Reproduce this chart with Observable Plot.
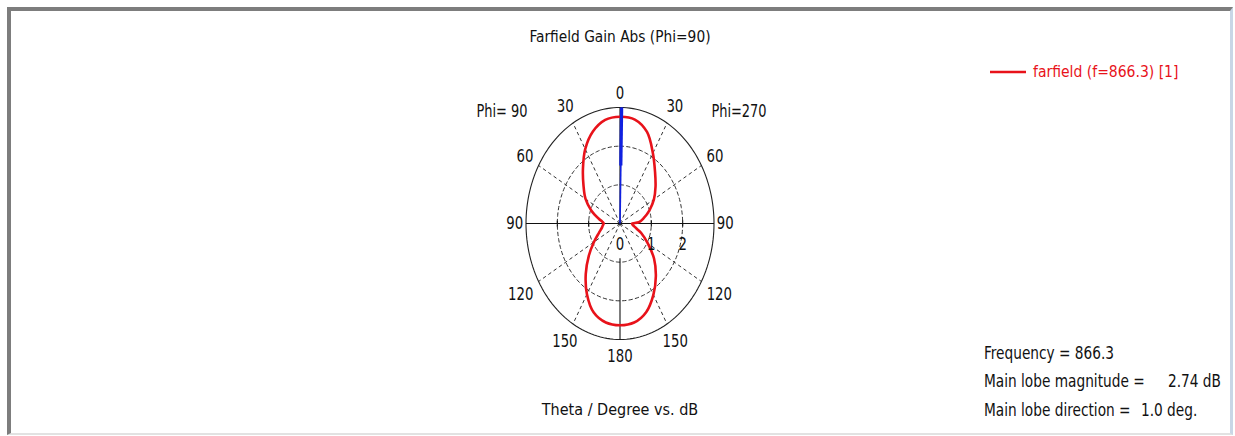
<!DOCTYPE html>
<html>
<head>
<meta charset="utf-8">
<script src="https://cdn.jsdelivr.net/npm/d3@7"></script>
<script src="https://cdn.jsdelivr.net/npm/@observablehq/plot@0.6"></script>
<style>
  html, body { margin: 0; padding: 0; background: #fff; }
  #wrap { position: relative; width: 1235px; height: 436px; overflow: hidden; background: #fff;
          font-family: "DejaVu Sans Condensed", "DejaVu Sans", sans-serif; color: #111; }
  #frame { position: absolute; left: 7px; top: 7px; width: 1226px; height: 428px;
           border-top: 4px solid #7d7d7d; border-left: 4px solid #7d7d7d;
           border-right: 3px solid #c9d6e6; border-bottom: 2px solid #e2e2e2; box-sizing: border-box; }
  #chart { position: absolute; left: 0; top: 0; }
  .t { position: absolute; white-space: nowrap; }
  .c { transform-origin: center center; }
  .l { transform-origin: left center; }
</style>
</head>
<body>
<div id="wrap">
  <div id="frame"></div>
  <div id="chart"></div>
  <div class="t c" style="left:620px;top:37px;font-size:15.3px;line-height:16px;transform:translate(-50%,-50%)">Farfield Gain Abs (Phi=90)</div>
  <div class="t c" style="left:620px;top:410px;font-size:16px;line-height:16px;transform:translate(-50%,-50%)">Theta / Degree vs. dB</div>
  <div class="t c" style="left:502px;top:111px;font-size:18px;line-height:18px;transform:translate(-50%,-50%) scaleX(0.8)">Phi= 90</div>
  <div class="t c" style="left:739px;top:111px;font-size:18px;line-height:18px;transform:translate(-50%,-50%) scaleX(0.8)">Phi=270</div>
  <svg style="position:absolute;left:988px;top:66px" width="40" height="12"><line x1="2" y1="6" x2="38" y2="6" stroke="#e8121a" stroke-width="2.5"/></svg>
  <div class="t l" style="left:1033px;top:72px;font-size:16px;line-height:16px;color:#e8121a;transform:translate(0,-50%) scaleX(0.97)">farfield (f=866.3) [1]</div>
  <div class="t l" style="left:984px;top:353px;font-size:17.5px;line-height:18px;transform:translate(0,-50%) scaleX(0.87)">Frequency = 866.3</div>
  <div class="t l" style="left:984px;top:381px;font-size:17.5px;line-height:18px;transform:translate(0,-50%) scaleX(0.87)">Main lobe magnitude =</div>
  <div class="t l" style="left:1168px;top:381px;font-size:17.5px;line-height:18px;transform:translate(0,-50%) scaleX(0.87)">2.74 dB</div>
  <div class="t l" style="left:984px;top:410px;font-size:17.5px;line-height:18px;transform:translate(0,-50%) scaleX(0.87)">Main lobe direction =</div>
  <div class="t l" style="left:1141px;top:410px;font-size:17.5px;line-height:18px;transform:translate(0,-50%) scaleX(0.87)">1.0 deg.</div>
</div>
<script>
// Phi = 270 half (drawn on the right), theta in degrees, gain in dB
const thetaRight = [0, 10, 20, 30, 40, 50, 60, 70, 80, 87, 90, 95, 100, 105, 110, 120, 130, 140, 150, 160, 170, 180];
const gainRight  = [2.76, 2.73, 2.52, 2.10, 1.74, 1.48, 1.25, 1.00, 0.76, 0.60, 0.38, 0.41, 0.47, 0.57, 0.72, 1.02, 1.42, 1.78, 2.13, 2.44, 2.60, 2.63];
// Phi = 90 half (drawn on the left)
const thetaLeft = [0, 10, 20, 30, 40, 50, 60, 70, 80, 85, 90, 95, 100, 110, 120, 130, 140, 150, 160, 170, 180];
const gainLeft  = [2.76, 2.72, 2.53, 2.22, 1.84, 1.52, 1.27, 0.97, 0.68, 0.57, 0.52, 0.55, 0.58, 0.72, 0.96, 1.30, 1.70, 2.11, 2.45, 2.60, 2.63];
// grid
const ringValues = [1, 2];
const outerRing = 3;
const spokeAngles = [30, 60, 120, 150, 210, 240, 300, 330];
const radialTickLabels = ["0", "1", "2"];
const radialTickValues = [0, 1, 2];
const angleTickValues = [0, 30, 60, 90, 120, 150, 180];
const angleTickLabels = ["0", "30", "60", "90", "120", "150", "180"];
const mainLobeDirection = 1.0;

const rad = d => d * Math.PI / 180;
const polar = (r, deg, side = 1) => ({x: side * r * Math.sin(rad(deg)), y: r * Math.cos(rad(deg))});

// pattern: right half 0→180, then left half 180→0 (closed)
const pattern = [];
thetaRight.forEach((t, i) => pattern.push(polar(gainRight[i], t, 1)));
for (let i = thetaLeft.length - 2; i >= 1; i--) pattern.push(polar(gainLeft[i], thetaLeft[i], -1));

const ringPts = (r) => d3.range(0, 361, 2).map(a => ({...polar(r, a), r}));
const dashedRings = ringValues.flatMap(ringPts);
const outer = ringPts(outerRing);
const spokes = spokeAngles.map(a => { const p = polar(outerRing, a); return {x1: 0, y1: 0, x2: p.x, y2: p.y}; });

const angleLabels = [];
angleTickValues.forEach((a, i) => {
  const sides = (a === 0 || a === 180) ? [1] : [1, -1];
  sides.forEach(s => angleLabels.push({a, s, label: angleTickLabels[i]}));
});
// label offset (in dB units) outside the outer ring, per angle
const labelPad = {0: 3.37, 30: 3.5, 60: 3.5, 90: 3.36, 120: 3.66, 150: 3.52, 180: 3.44};
const labelR = a => labelPad[a];

const plot = Plot.plot({
  width: 1235, height: 436,
  marginTop: 0, marginBottom: 0, marginLeft: 0, marginRight: 0,
  style: {fontFamily: '"DejaVu Sans Condensed", "DejaVu Sans", sans-serif', fontSize: "18px", color: "#111", background: "transparent", overflow: "visible"},
  x: {domain: [-3, 3], range: [525.5, 713.5], axis: null},
  y: {domain: [-3, 3], range: [339, 107], axis: null},
  marks: [
    Plot.line(dashedRings, {x: "x", y: "y", z: "r", stroke: "#333", strokeWidth: 1, strokeDasharray: "3.5,3"}),
    Plot.link(spokes, {x1: "x1", y1: "y1", x2: "x2", y2: "y2", stroke: "#333", strokeWidth: 1, strokeDasharray: "3.5,3"}),
    Plot.line(outer, {x: "x", y: "y", stroke: "#222", strokeWidth: 1.1}),
    Plot.link([{x1: -3, x2: 3, y1: 0, y2: 0}], {x1: "x1", x2: "x2", y1: "y1", y2: "y2", stroke: "#111", strokeWidth: 1.1}),
    Plot.link([{x1: 0, x2: 0, y1: -0.9, y2: -3}, {x1: 0, x2: 0, y1: 0, y2: 3}], {x1: "x1", x2: "x2", y1: "y1", y2: "y2", stroke: "#111", strokeWidth: 1.1}),
    Plot.link([-2, -1, 1, 2].map(v => ({x: v})), {x1: "x", x2: "x", y1: -0.08, y2: 0.08, stroke: "#111", strokeWidth: 1.1}),
    Plot.line(pattern, {x: "x", y: "y", curve: "catmull-rom-closed", stroke: "#e8121a", strokeWidth: 2.6}),
    Plot.link([{r1: 0, r2: 3, w: 1.6}, {r1: 1.5, r2: 3, w: 3.2}], {
      x1: d => polar(d.r1, mainLobeDirection).x, y1: d => polar(d.r1, mainLobeDirection).y,
      x2: d => polar(d.r2, mainLobeDirection).x, y2: d => polar(d.r2, mainLobeDirection).y,
      stroke: "#1020e0", strokeWidth: d => d.w
    }),
    Plot.text(radialTickValues.map((v, i) => ({v, y0: 0, label: radialTickLabels[i]})), {x: "v", y: "y0", text: "label", dy: 21, fill: "#111", fontSize: 18}),
    Plot.text(angleLabels, {
      x: d => polar(labelR(d.a), d.a, d.s).x, y: d => polar(labelR(d.a), d.a, d.s).y,
      text: "label", fill: "#111", fontSize: 18
    })
  ]
});
document.getElementById("chart").appendChild(plot);
// condense SVG label glyphs horizontally to match the squeezed original
plot.querySelectorAll("text").forEach(el => {
  const len = el.getComputedTextLength();
  if (len > 0) {
    el.setAttribute("textLength", (len * 0.82).toFixed(2));
    el.setAttribute("lengthAdjust", "spacingAndGlyphs");
  }
});
</script>
</body>
</html>
